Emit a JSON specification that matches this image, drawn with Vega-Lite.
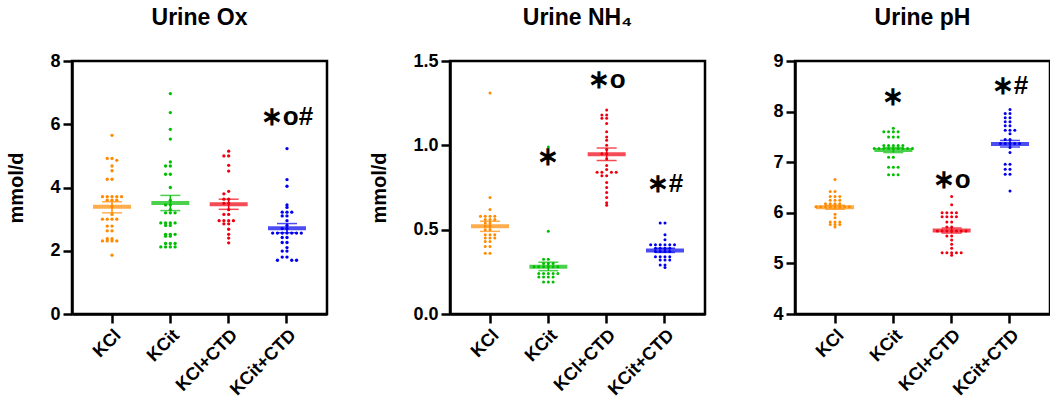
{
  "$schema": "https://vega.github.io/schema/vega-lite/v6.json",
  "background": "white",
  "padding": {"left": 5, "top": 5, "right": 2, "bottom": 5},
  "spacing": 39,
  "config": {
    "font": "Liberation Sans",
    "view": {"stroke": "black", "strokeWidth": 2.5},
    "axis": {
      "grid": false,
      "domainColor": "black",
      "domainWidth": 2.5,
      "tickColor": "black",
      "tickWidth": 2.5,
      "tickSize": 9,
      "labelFont": "Liberation Sans",
      "labelFontSize": 18,
      "labelFontWeight": "bold",
      "labelColor": "black",
      "labelPadding": 3,
      "titleFont": "Liberation Sans",
      "titleFontSize": 20,
      "titleFontWeight": "bold",
      "titleColor": "black",
      "titlePadding": 23
    },
    "title": {"font": "Liberation Sans", "fontSize": 23, "fontWeight": "bold", "color": "black", "offset": 22, "anchor": "middle"}
  },
  "datasets": {
    "ox": [
      {"g": "KCl", "v": 5.65}, {"g": "KCl", "v": 4.92}, {"g": "KCl", "v": 4.92}, {"g": "KCl", "v": 4.86}, {"g": "KCl", "v": 4.68}, {"g": "KCl", "v": 4.53}, {"g": "KCl", "v": 4.26}, {"g": "KCl", "v": 4.26}, {"g": "KCl", "v": 3.71}, {"g": "KCl", "v": 3.71}, {"g": "KCl", "v": 3.71}, {"g": "KCl", "v": 3.71}, {"g": "KCl", "v": 3.71}, {"g": "KCl", "v": 3.6}, {"g": "KCl", "v": 3.6}, {"g": "KCl", "v": 3.6}, {"g": "KCl", "v": 3.4}, {"g": "KCl", "v": 3.15}, {"g": "KCl", "v": 3.0}, {"g": "KCl", "v": 3.0}, {"g": "KCl", "v": 3.0}, {"g": "KCl", "v": 3.0}, {"g": "KCl", "v": 2.78}, {"g": "KCl", "v": 2.78}, {"g": "KCl", "v": 2.63}, {"g": "KCl", "v": 2.63}, {"g": "KCl", "v": 2.38}, {"g": "KCl", "v": 2.38}, {"g": "KCl", "v": 2.31}, {"g": "KCl", "v": 2.31}, {"g": "KCl", "v": 2.31}, {"g": "KCl", "v": 2.31}, {"g": "KCl", "v": 1.86},
      {"g": "KCit", "v": 6.97}, {"g": "KCit", "v": 6.37}, {"g": "KCit", "v": 5.84}, {"g": "KCit", "v": 5.53}, {"g": "KCit", "v": 4.81}, {"g": "KCit", "v": 4.68}, {"g": "KCit", "v": 4.68}, {"g": "KCit", "v": 4.42}, {"g": "KCit", "v": 4.42}, {"g": "KCit", "v": 4.0}, {"g": "KCit", "v": 3.6}, {"g": "KCit", "v": 3.45}, {"g": "KCit", "v": 3.45}, {"g": "KCit", "v": 3.3}, {"g": "KCit", "v": 3.2}, {"g": "KCit", "v": 3.2}, {"g": "KCit", "v": 3.2}, {"g": "KCit", "v": 2.88}, {"g": "KCit", "v": 2.88}, {"g": "KCit", "v": 2.88}, {"g": "KCit", "v": 2.88}, {"g": "KCit", "v": 2.8}, {"g": "KCit", "v": 2.8}, {"g": "KCit", "v": 2.52}, {"g": "KCit", "v": 2.52}, {"g": "KCit", "v": 2.52}, {"g": "KCit", "v": 2.46}, {"g": "KCit", "v": 2.46}, {"g": "KCit", "v": 2.23}, {"g": "KCit", "v": 2.23}, {"g": "KCit", "v": 2.23}, {"g": "KCit", "v": 2.12}, {"g": "KCit", "v": 2.12}, {"g": "KCit", "v": 2.12}, {"g": "KCit", "v": 2.12},
      {"g": "KCl+CTD", "v": 5.15}, {"g": "KCl+CTD", "v": 5.0}, {"g": "KCl+CTD", "v": 5.0}, {"g": "KCl+CTD", "v": 4.7}, {"g": "KCl+CTD", "v": 4.52}, {"g": "KCl+CTD", "v": 3.88}, {"g": "KCl+CTD", "v": 3.8}, {"g": "KCl+CTD", "v": 3.63}, {"g": "KCl+CTD", "v": 3.63}, {"g": "KCl+CTD", "v": 3.5}, {"g": "KCl+CTD", "v": 3.5}, {"g": "KCl+CTD", "v": 3.3}, {"g": "KCl+CTD", "v": 3.15}, {"g": "KCl+CTD", "v": 3.15}, {"g": "KCl+CTD", "v": 2.95}, {"g": "KCl+CTD", "v": 2.95}, {"g": "KCl+CTD", "v": 2.95}, {"g": "KCl+CTD", "v": 2.95}, {"g": "KCl+CTD", "v": 2.85}, {"g": "KCl+CTD", "v": 2.85}, {"g": "KCl+CTD", "v": 2.68}, {"g": "KCl+CTD", "v": 2.52}, {"g": "KCl+CTD", "v": 2.4}, {"g": "KCl+CTD", "v": 2.25},
      {"g": "KCit+CTD", "v": 5.23}, {"g": "KCit+CTD", "v": 4.25}, {"g": "KCit+CTD", "v": 4.04}, {"g": "KCit+CTD", "v": 3.45}, {"g": "KCit+CTD", "v": 3.37}, {"g": "KCit+CTD", "v": 3.22}, {"g": "KCit+CTD", "v": 3.22}, {"g": "KCit+CTD", "v": 3.22}, {"g": "KCit+CTD", "v": 3.1}, {"g": "KCit+CTD", "v": 3.1}, {"g": "KCit+CTD", "v": 2.95}, {"g": "KCit+CTD", "v": 2.8}, {"g": "KCit+CTD", "v": 2.7}, {"g": "KCit+CTD", "v": 2.7}, {"g": "KCit+CTD", "v": 2.56}, {"g": "KCit+CTD", "v": 2.56}, {"g": "KCit+CTD", "v": 2.56}, {"g": "KCit+CTD", "v": 2.56}, {"g": "KCit+CTD", "v": 2.56}, {"g": "KCit+CTD", "v": 2.56}, {"g": "KCit+CTD", "v": 2.56}, {"g": "KCit+CTD", "v": 2.42}, {"g": "KCit+CTD", "v": 2.42}, {"g": "KCit+CTD", "v": 2.26}, {"g": "KCit+CTD", "v": 2.26}, {"g": "KCit+CTD", "v": 2.1}, {"g": "KCit+CTD", "v": 1.99}, {"g": "KCit+CTD", "v": 1.99}, {"g": "KCit+CTD", "v": 1.8}, {"g": "KCit+CTD", "v": 1.8}, {"g": "KCit+CTD", "v": 1.7}, {"g": "KCit+CTD", "v": 1.7}, {"g": "KCit+CTD", "v": 1.7}
    ],
    "ox_s": [
      {"g": "KCl", "mean": 3.39, "lo": 3.2, "hi": 3.55},
      {"g": "KCit", "mean": 3.51, "lo": 3.27, "hi": 3.75},
      {"g": "KCl+CTD", "mean": 3.47, "lo": 3.31, "hi": 3.63},
      {"g": "KCit+CTD", "mean": 2.71, "lo": 2.57, "hi": 2.86}
    ],
    "ox_a": [{"g": "KCit+CTD", "y": 6.23, "t": "∗o#"}],
    "nh": [
      {"g": "KCl", "v": 1.31}, {"g": "KCl", "v": 0.69}, {"g": "KCl", "v": 0.62}, {"g": "KCl", "v": 0.58}, {"g": "KCl", "v": 0.58}, {"g": "KCl", "v": 0.58}, {"g": "KCl", "v": 0.58}, {"g": "KCl", "v": 0.56}, {"g": "KCl", "v": 0.56}, {"g": "KCl", "v": 0.56}, {"g": "KCl", "v": 0.54}, {"g": "KCl", "v": 0.54}, {"g": "KCl", "v": 0.52}, {"g": "KCl", "v": 0.52}, {"g": "KCl", "v": 0.5}, {"g": "KCl", "v": 0.5}, {"g": "KCl", "v": 0.47}, {"g": "KCl", "v": 0.47}, {"g": "KCl", "v": 0.47}, {"g": "KCl", "v": 0.45}, {"g": "KCl", "v": 0.45}, {"g": "KCl", "v": 0.45}, {"g": "KCl", "v": 0.43}, {"g": "KCl", "v": 0.43}, {"g": "KCl", "v": 0.4}, {"g": "KCl", "v": 0.4}, {"g": "KCl", "v": 0.36}, {"g": "KCl", "v": 0.36},
      {"g": "KCit", "v": 0.99}, {"g": "KCit", "v": 0.49}, {"g": "KCit", "v": 0.325}, {"g": "KCit", "v": 0.325}, {"g": "KCit", "v": 0.3}, {"g": "KCit", "v": 0.3}, {"g": "KCit", "v": 0.3}, {"g": "KCit", "v": 0.28}, {"g": "KCit", "v": 0.28}, {"g": "KCit", "v": 0.28}, {"g": "KCit", "v": 0.28}, {"g": "KCit", "v": 0.28}, {"g": "KCit", "v": 0.28}, {"g": "KCit", "v": 0.24}, {"g": "KCit", "v": 0.24}, {"g": "KCit", "v": 0.24}, {"g": "KCit", "v": 0.24}, {"g": "KCit", "v": 0.24}, {"g": "KCit", "v": 0.22}, {"g": "KCit", "v": 0.22}, {"g": "KCit", "v": 0.22}, {"g": "KCit", "v": 0.22}, {"g": "KCit", "v": 0.19}, {"g": "KCit", "v": 0.19}, {"g": "KCit", "v": 0.19},
      {"g": "KCl+CTD", "v": 1.21}, {"g": "KCl+CTD", "v": 1.18}, {"g": "KCl+CTD", "v": 1.18}, {"g": "KCl+CTD", "v": 1.16}, {"g": "KCl+CTD", "v": 1.16}, {"g": "KCl+CTD", "v": 1.13}, {"g": "KCl+CTD", "v": 1.08}, {"g": "KCl+CTD", "v": 1.05}, {"g": "KCl+CTD", "v": 1.03}, {"g": "KCl+CTD", "v": 1.0}, {"g": "KCl+CTD", "v": 0.975}, {"g": "KCl+CTD", "v": 0.95}, {"g": "KCl+CTD", "v": 0.95}, {"g": "KCl+CTD", "v": 0.92}, {"g": "KCl+CTD", "v": 0.88}, {"g": "KCl+CTD", "v": 0.857}, {"g": "KCl+CTD", "v": 0.84}, {"g": "KCl+CTD", "v": 0.84}, {"g": "KCl+CTD", "v": 0.84}, {"g": "KCl+CTD", "v": 0.84}, {"g": "KCl+CTD", "v": 0.82}, {"g": "KCl+CTD", "v": 0.82}, {"g": "KCl+CTD", "v": 0.78}, {"g": "KCl+CTD", "v": 0.75}, {"g": "KCl+CTD", "v": 0.72}, {"g": "KCl+CTD", "v": 0.69}, {"g": "KCl+CTD", "v": 0.66}, {"g": "KCl+CTD", "v": 0.645},
      {"g": "KCit+CTD", "v": 0.54}, {"g": "KCit+CTD", "v": 0.54}, {"g": "KCit+CTD", "v": 0.47}, {"g": "KCit+CTD", "v": 0.44}, {"g": "KCit+CTD", "v": 0.41}, {"g": "KCit+CTD", "v": 0.41}, {"g": "KCit+CTD", "v": 0.41}, {"g": "KCit+CTD", "v": 0.41}, {"g": "KCit+CTD", "v": 0.41}, {"g": "KCit+CTD", "v": 0.41}, {"g": "KCit+CTD", "v": 0.39}, {"g": "KCit+CTD", "v": 0.39}, {"g": "KCit+CTD", "v": 0.39}, {"g": "KCit+CTD", "v": 0.39}, {"g": "KCit+CTD", "v": 0.37}, {"g": "KCit+CTD", "v": 0.37}, {"g": "KCit+CTD", "v": 0.37}, {"g": "KCit+CTD", "v": 0.37}, {"g": "KCit+CTD", "v": 0.34}, {"g": "KCit+CTD", "v": 0.34}, {"g": "KCit+CTD", "v": 0.34}, {"g": "KCit+CTD", "v": 0.34}, {"g": "KCit+CTD", "v": 0.32}, {"g": "KCit+CTD", "v": 0.32}, {"g": "KCit+CTD", "v": 0.32}, {"g": "KCit+CTD", "v": 0.29}, {"g": "KCit+CTD", "v": 0.29}, {"g": "KCit+CTD", "v": 0.275}
    ],
    "nh_s": [
      {"g": "KCl", "mean": 0.52, "lo": 0.49, "hi": 0.55},
      {"g": "KCit", "mean": 0.28, "lo": 0.257, "hi": 0.307},
      {"g": "KCl+CTD", "mean": 0.947, "lo": 0.91, "hi": 0.984},
      {"g": "KCit+CTD", "mean": 0.377, "lo": 0.365, "hi": 0.39}
    ],
    "nh_a": [
      {"g": "KCit", "y": 0.93, "t": "∗"},
      {"g": "KCl+CTD", "y": 1.386, "t": "∗o"},
      {"g": "KCit+CTD", "y": 0.772, "t": "∗#"}
    ],
    "ph": [
      {"g": "KCl", "v": 6.66}, {"g": "KCl", "v": 6.42}, {"g": "KCl", "v": 6.42}, {"g": "KCl", "v": 6.32}, {"g": "KCl", "v": 6.32}, {"g": "KCl", "v": 6.32}, {"g": "KCl", "v": 6.25}, {"g": "KCl", "v": 6.25}, {"g": "KCl", "v": 6.25}, {"g": "KCl", "v": 6.18}, {"g": "KCl", "v": 6.18}, {"g": "KCl", "v": 6.18}, {"g": "KCl", "v": 6.18}, {"g": "KCl", "v": 6.12}, {"g": "KCl", "v": 6.12}, {"g": "KCl", "v": 6.12}, {"g": "KCl", "v": 6.12}, {"g": "KCl", "v": 6.12}, {"g": "KCl", "v": 6.12}, {"g": "KCl", "v": 6.12}, {"g": "KCl", "v": 6.12}, {"g": "KCl", "v": 5.97}, {"g": "KCl", "v": 5.9}, {"g": "KCl", "v": 5.82}, {"g": "KCl", "v": 5.82}, {"g": "KCl", "v": 5.82}, {"g": "KCl", "v": 5.77}, {"g": "KCl", "v": 5.77}, {"g": "KCl", "v": 5.77}, {"g": "KCl", "v": 5.72},
      {"g": "KCit", "v": 7.67}, {"g": "KCit", "v": 7.6}, {"g": "KCit", "v": 7.6}, {"g": "KCit", "v": 7.6}, {"g": "KCit", "v": 7.6}, {"g": "KCit", "v": 7.5}, {"g": "KCit", "v": 7.5}, {"g": "KCit", "v": 7.5}, {"g": "KCit", "v": 7.33}, {"g": "KCit", "v": 7.33}, {"g": "KCit", "v": 7.33}, {"g": "KCit", "v": 7.33}, {"g": "KCit", "v": 7.33}, {"g": "KCit", "v": 7.27}, {"g": "KCit", "v": 7.27}, {"g": "KCit", "v": 7.27}, {"g": "KCit", "v": 7.27}, {"g": "KCit", "v": 7.27}, {"g": "KCit", "v": 7.27}, {"g": "KCit", "v": 7.27}, {"g": "KCit", "v": 7.27}, {"g": "KCit", "v": 7.27}, {"g": "KCit", "v": 7.1}, {"g": "KCit", "v": 7.1}, {"g": "KCit", "v": 6.9}, {"g": "KCit", "v": 6.9}, {"g": "KCit", "v": 6.9}, {"g": "KCit", "v": 6.75}, {"g": "KCit", "v": 6.75}, {"g": "KCit", "v": 6.75},
      {"g": "KCl+CTD", "v": 6.32}, {"g": "KCl+CTD", "v": 6.16}, {"g": "KCl+CTD", "v": 6.0}, {"g": "KCl+CTD", "v": 6.0}, {"g": "KCl+CTD", "v": 6.0}, {"g": "KCl+CTD", "v": 6.0}, {"g": "KCl+CTD", "v": 5.92}, {"g": "KCl+CTD", "v": 5.92}, {"g": "KCl+CTD", "v": 5.92}, {"g": "KCl+CTD", "v": 5.92}, {"g": "KCl+CTD", "v": 5.82}, {"g": "KCl+CTD", "v": 5.82}, {"g": "KCl+CTD", "v": 5.72}, {"g": "KCl+CTD", "v": 5.72}, {"g": "KCl+CTD", "v": 5.64}, {"g": "KCl+CTD", "v": 5.64}, {"g": "KCl+CTD", "v": 5.64}, {"g": "KCl+CTD", "v": 5.64}, {"g": "KCl+CTD", "v": 5.64}, {"g": "KCl+CTD", "v": 5.64}, {"g": "KCl+CTD", "v": 5.64}, {"g": "KCl+CTD", "v": 5.54}, {"g": "KCl+CTD", "v": 5.54}, {"g": "KCl+CTD", "v": 5.46}, {"g": "KCl+CTD", "v": 5.38}, {"g": "KCl+CTD", "v": 5.3}, {"g": "KCl+CTD", "v": 5.21}, {"g": "KCl+CTD", "v": 5.21}, {"g": "KCl+CTD", "v": 5.21}, {"g": "KCl+CTD", "v": 5.21}, {"g": "KCl+CTD", "v": 5.21}, {"g": "KCl+CTD", "v": 5.16},
      {"g": "KCit+CTD", "v": 8.04}, {"g": "KCit+CTD", "v": 7.96}, {"g": "KCit+CTD", "v": 7.96}, {"g": "KCit+CTD", "v": 7.88}, {"g": "KCit+CTD", "v": 7.88}, {"g": "KCit+CTD", "v": 7.8}, {"g": "KCit+CTD", "v": 7.8}, {"g": "KCit+CTD", "v": 7.72}, {"g": "KCit+CTD", "v": 7.72}, {"g": "KCit+CTD", "v": 7.63}, {"g": "KCit+CTD", "v": 7.63}, {"g": "KCit+CTD", "v": 7.63}, {"g": "KCit+CTD", "v": 7.56}, {"g": "KCit+CTD", "v": 7.45}, {"g": "KCit+CTD", "v": 7.45}, {"g": "KCit+CTD", "v": 7.37}, {"g": "KCit+CTD", "v": 7.37}, {"g": "KCit+CTD", "v": 7.37}, {"g": "KCit+CTD", "v": 7.37}, {"g": "KCit+CTD", "v": 7.37}, {"g": "KCit+CTD", "v": 7.29}, {"g": "KCit+CTD", "v": 7.19}, {"g": "KCit+CTD", "v": 6.96}, {"g": "KCit+CTD", "v": 6.96}, {"g": "KCit+CTD", "v": 6.86}, {"g": "KCit+CTD", "v": 6.86}, {"g": "KCit+CTD", "v": 6.76}, {"g": "KCit+CTD", "v": 6.76}, {"g": "KCit+CTD", "v": 6.43}
    ],
    "ph_s": [
      {"g": "KCl", "mean": 6.11, "lo": 6.07, "hi": 6.15},
      {"g": "KCit", "mean": 7.24, "lo": 7.19, "hi": 7.29},
      {"g": "KCl+CTD", "mean": 5.65, "lo": 5.6, "hi": 5.7},
      {"g": "KCit+CTD", "mean": 7.36, "lo": 7.3, "hi": 7.43}
    ],
    "ph_a": [
      {"g": "KCit", "y": 8.28, "t": "∗"},
      {"g": "KCl+CTD", "y": 6.65, "t": "∗o"},
      {"g": "KCit+CTD", "y": 8.5, "t": "∗#"}
    ]
  },
  "hconcat": [
    {
      "width": 255, "height": 253,
      "title": "Urine Ox",
      "encoding": {
        "x": {"field": "g", "type": "nominal", "title": null,
              "scale": {"domain": ["KCl", "KCit", "KCl+CTD", "KCit+CTD"], "paddingInner": 0.1, "paddingOuter": 0.236},
              "axis": {"labelAngle": -45}},
        "color": {"field": "g", "type": "nominal", "legend": null,
                  "scale": {"domain": ["KCl", "KCit", "KCl+CTD", "KCit+CTD"], "range": ["#FF8A00", "#00BE00", "#EE0010", "#0000EE"]}}
      },
      "layer": [
        {
          "data": {"name": "ox"},
          "transform": [
            {"bin": {"step": 0.13}, "field": "v", "as": "vb"},
            {"window": [{"op": "row_number", "as": "rn"}], "groupby": ["g", "vb"]}
          ],
          "mark": {"type": "circle", "size": 11, "opacity": 1},
          "encoding": {
            "xOffset": {"field": "rn", "type": "ordinal", "scale": {"type": "point", "padding": 0.5, "domain": [10, 8, 6, 4, 2, 1, 3, 5, 7, 9, 11]}},
            "y": {"field": "v", "type": "quantitative", "title": "mmol/d", "scale": {"domain": [0, 8], "nice": false}, "axis": {"values": [0, 2, 4, 6, 8]}}
          }
        },
        {
          "data": {"name": "ox_s"},
          "mark": {"type": "tick", "thickness": 4, "size": 38},
          "encoding": {"y": {"field": "mean", "type": "quantitative", "title": "mmol/d"}}
        },
        {
          "data": {"name": "ox_s"},
          "mark": {"type": "rule", "strokeWidth": 1.5},
          "encoding": {"y": {"field": "lo", "type": "quantitative", "title": "mmol/d"}, "y2": {"field": "hi"}}
        },
        {
          "data": {"name": "ox_s"},
          "mark": {"type": "tick", "thickness": 1.5, "size": 20},
          "encoding": {"y": {"field": "lo", "type": "quantitative", "title": "mmol/d"}}
        },
        {
          "data": {"name": "ox_s"},
          "mark": {"type": "tick", "thickness": 1.5, "size": 20},
          "encoding": {"y": {"field": "hi", "type": "quantitative", "title": "mmol/d"}}
        },
        {
          "data": {"name": "ox_a"},
          "mark": {"type": "text", "fontSize": 26, "fontWeight": "bold", "font": "Liberation Sans", "align": "center", "baseline": "middle", "color": "black"},
          "encoding": {"y": {"field": "y", "type": "quantitative", "title": "mmol/d"}, "text": {"field": "t"}, "color": {"value": "black"}}
        }
      ]
    },
    {
      "width": 255, "height": 253,
      "title": "Urine NH₄",
      "encoding": {
        "x": {"field": "g", "type": "nominal", "title": null,
              "scale": {"domain": ["KCl", "KCit", "KCl+CTD", "KCit+CTD"], "paddingInner": 0.1, "paddingOuter": 0.236},
              "axis": {"labelAngle": -45}},
        "color": {"field": "g", "type": "nominal", "legend": null,
                  "scale": {"domain": ["KCl", "KCit", "KCl+CTD", "KCit+CTD"], "range": ["#FF8A00", "#00BE00", "#EE0010", "#0000EE"]}}
      },
      "layer": [
        {
          "data": {"name": "nh"},
          "transform": [
            {"bin": {"step": 0.02}, "field": "v", "as": "vb"},
            {"window": [{"op": "row_number", "as": "rn"}], "groupby": ["g", "vb"]}
          ],
          "mark": {"type": "circle", "size": 9, "opacity": 1},
          "encoding": {
            "xOffset": {"field": "rn", "type": "ordinal", "scale": {"type": "point", "padding": 0.5, "domain": [10, 8, 6, 4, 2, 1, 3, 5, 7, 9, 11]}},
            "y": {"field": "v", "type": "quantitative", "title": "mmol/d", "scale": {"domain": [0, 1.5], "nice": false}, "axis": {"values": [0, 0.5, 1, 1.5], "format": ".1f"}}
          }
        },
        {
          "data": {"name": "nh_s"},
          "mark": {"type": "tick", "thickness": 4, "size": 38},
          "encoding": {"y": {"field": "mean", "type": "quantitative", "title": "mmol/d"}}
        },
        {
          "data": {"name": "nh_s"},
          "mark": {"type": "rule", "strokeWidth": 1.5},
          "encoding": {"y": {"field": "lo", "type": "quantitative", "title": "mmol/d"}, "y2": {"field": "hi"}}
        },
        {
          "data": {"name": "nh_s"},
          "mark": {"type": "tick", "thickness": 1.5, "size": 20},
          "encoding": {"y": {"field": "lo", "type": "quantitative", "title": "mmol/d"}}
        },
        {
          "data": {"name": "nh_s"},
          "mark": {"type": "tick", "thickness": 1.5, "size": 20},
          "encoding": {"y": {"field": "hi", "type": "quantitative", "title": "mmol/d"}}
        },
        {
          "data": {"name": "nh_a"},
          "mark": {"type": "text", "fontSize": 26, "fontWeight": "bold", "font": "Liberation Sans", "align": "center", "baseline": "middle", "color": "black"},
          "encoding": {"y": {"field": "y", "type": "quantitative", "title": "mmol/d"}, "text": {"field": "t"}, "color": {"value": "black"}}
        }
      ]
    },
    {
      "width": 255, "height": 253,
      "title": "Urine pH",
      "encoding": {
        "x": {"field": "g", "type": "nominal", "title": null,
              "scale": {"domain": ["KCl", "KCit", "KCl+CTD", "KCit+CTD"], "paddingInner": 0.1, "paddingOuter": 0.236},
              "axis": {"labelAngle": -45}},
        "color": {"field": "g", "type": "nominal", "legend": null,
                  "scale": {"domain": ["KCl", "KCit", "KCl+CTD", "KCit+CTD"], "range": ["#FF8A00", "#00BE00", "#EE0010", "#0000EE"]}}
      },
      "layer": [
        {
          "data": {"name": "ph"},
          "transform": [
            {"bin": {"step": 0.03}, "field": "v", "as": "vb"},
            {"window": [{"op": "row_number", "as": "rn"}], "groupby": ["g", "vb"]}
          ],
          "mark": {"type": "circle", "size": 9, "opacity": 1},
          "encoding": {
            "xOffset": {"field": "rn", "type": "ordinal", "scale": {"type": "point", "padding": 0.5, "domain": [10, 8, 6, 4, 2, 1, 3, 5, 7, 9, 11]}},
            "y": {"field": "v", "type": "quantitative", "title": null, "scale": {"domain": [4, 9], "nice": false}, "axis": {"values": [4, 5, 6, 7, 8, 9], "minExtent": 47}}
          }
        },
        {
          "data": {"name": "ph_s"},
          "mark": {"type": "tick", "thickness": 4, "size": 38},
          "encoding": {"y": {"field": "mean", "type": "quantitative", "title": null}}
        },
        {
          "data": {"name": "ph_s"},
          "mark": {"type": "rule", "strokeWidth": 1.5},
          "encoding": {"y": {"field": "lo", "type": "quantitative", "title": null}, "y2": {"field": "hi"}}
        },
        {
          "data": {"name": "ph_s"},
          "mark": {"type": "tick", "thickness": 1.5, "size": 20},
          "encoding": {"y": {"field": "lo", "type": "quantitative", "title": null}}
        },
        {
          "data": {"name": "ph_s"},
          "mark": {"type": "tick", "thickness": 1.5, "size": 20},
          "encoding": {"y": {"field": "hi", "type": "quantitative", "title": null}}
        },
        {
          "data": {"name": "ph_a"},
          "mark": {"type": "text", "fontSize": 26, "fontWeight": "bold", "font": "Liberation Sans", "align": "center", "baseline": "middle", "color": "black"},
          "encoding": {"y": {"field": "y", "type": "quantitative", "title": null}, "text": {"field": "t"}, "color": {"value": "black"}}
        }
      ]
    }
  ]
}
